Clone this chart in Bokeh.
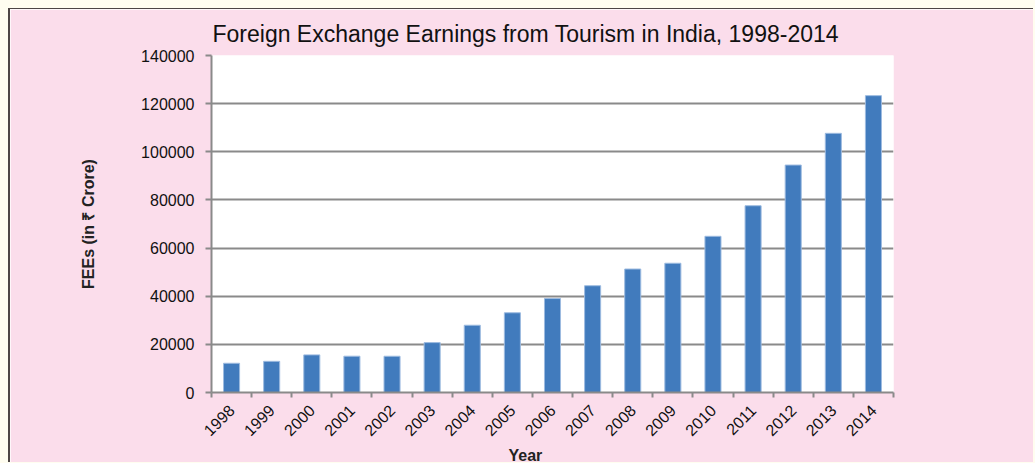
import math
from bokeh.plotting import figure
from bokeh.models import FixedTicker, Range1d, ColumnDataSource, Title, NumeralTickFormatter
from bokeh.embed import file_html
from bokeh.resources import INLINE

years = ["1998", "1999", "2000", "2001", "2002", "2003", "2004", "2005", "2006",
         "2007", "2008", "2009", "2010", "2011", "2012", "2013", "2014"]
fees = [12150, 12951, 15626, 15083, 15064, 20729, 27944, 33123, 39025,
        44360, 51294, 53700, 64889, 77591, 94487, 107671, 123320]
y_ticks = [0, 20000, 40000, 60000, 80000, 100000, 120000, 140000]

title_text = "Foreign Exchange Earnings from Tourism in India, 1998-2014"
y_title = "FEEs (in \u20b9 Crore)"
x_title = "Year"

PINK = "#FBDDEB"
GRID = "#8a8a8a"
FONT = "Liberation Sans"

n = len(years)
xs = [i + 0.5 for i in range(n)]
src = ColumnDataSource(dict(x=xs, top=fees, year=years))

p = figure(width=1025, height=454, output_backend="svg", toolbar_location=None,
           x_range=Range1d(0, n), y_range=Range1d(0, 140000),
           min_border_left=201, min_border_right=142, min_border_top=46, min_border_bottom=70)
p.styles = {"margin-left": "8px", "margin-top": "8px",
            "border-left": "2px solid #4d4545", "border-top": "1px solid #4d4545",
            "box-shadow": "0 0 0 8px #FFFDF0"}
p.background_fill_color = "white"
p.border_fill_color = PINK
p.outline_line_color = None

p.vbar(x="x", top="top", width=0.4, bottom=0, source=src,
       fill_color="#417BBD", line_color="#9DBBE0", line_width=1)

# x axis
xa = p.xaxis[0]
xa.ticker = FixedTicker(ticks=xs, minor_ticks=list(range(n + 1)))
xa.major_label_overrides = {x: y for x, y in zip(xs, years)}
xa.major_label_orientation = math.pi / 4
xa.major_tick_out = 0
xa.major_tick_in = 0
xa.minor_tick_out = 5
xa.minor_tick_in = 0
xa.minor_tick_line_color = GRID
xa.minor_tick_line_width = 2
xa.axis_line_color = GRID
xa.axis_line_width = 2
xa.major_label_text_font = FONT
xa.major_label_text_font_size = "16px"
xa.major_label_text_color = "#111111"
xa.major_label_standoff = 10

# y axis
ya = p.yaxis[0]
ya.ticker = FixedTicker(ticks=y_ticks)
ya.formatter = NumeralTickFormatter(format="0")
ya.major_tick_out = 6
ya.major_tick_in = 0
ya.minor_tick_line_color = None
ya.major_tick_line_color = GRID
ya.major_tick_line_width = 2
ya.axis_line_color = GRID
ya.axis_line_width = 2
ya.major_label_text_font = FONT
ya.major_label_text_font_size = "16px"
ya.major_label_text_color = "#111111"
ya.major_label_standoff = 11
ya.axis_label = y_title
ya.axis_label_text_font = FONT
ya.axis_label_text_font_size = "16px"
ya.axis_label_text_font_style = "bold"
ya.axis_label_text_color = "#222222"
ya.axis_label_standoff = 41

p.xgrid.grid_line_color = None
p.ygrid.grid_line_color = GRID
p.ygrid.grid_line_width = 2

# chart title (above) and x-axis title (below) as Title panels
p.add_layout(Title(text=title_text, align="left", offset=1, standoff=17,
                   text_font=FONT, text_font_size="23px", text_font_style="normal",
                   text_color="#111111"), "above")
p.add_layout(Title(text=x_title, align="left", offset=297, standoff=0,
                   text_font=FONT, text_font_size="16px", text_font_style="bold",
                   text_color="#222222"), "below")

open("out.html", "w").write(file_html(p, INLINE))
